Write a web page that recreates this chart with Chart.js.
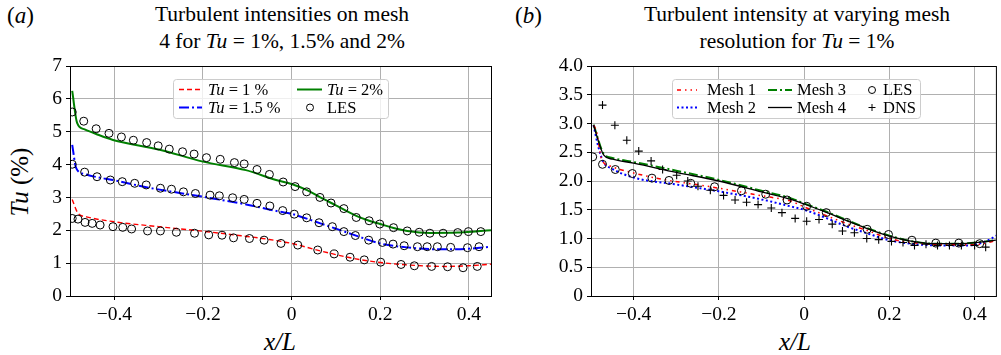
<!DOCTYPE html>
<html>
<head>
<meta charset="utf-8">
<script src="https://cdn.jsdelivr.net/npm/chart.js@4.4.0/dist/chart.umd.min.js"></script>
<style>
  body { margin: 0; background: #fff; width: 1001px; height: 355px; overflow: hidden; position: relative;
         font-family: "Liberation Serif", "Times New Roman", serif; color: #000; }
  .txt { position: absolute; white-space: nowrap; }
  .ttl { font-size: 21.5px; line-height: 27px; text-align: center; width: 420px; }
  .tag { font-size: 23px; }
  .xlab { font-size: 25px; font-style: italic; width: 100px; text-align: center; line-height: 30px; }
  .ylab { font-size: 25px; width: 120px; height: 30px; line-height: 30px; text-align: center; transform: rotate(-90deg); }
  canvas { position: absolute; top: 0; }
</style>
</head>
<body>
<div class="txt tag" style="left:7px; top:3px;">(<i>a</i>)</div>
<div class="txt ttl" style="left:72px; top:1px;">Turbulent intensities on mesh<br>4 for <i>Tu</i> = 1%, 1.5% and 2%</div>
<div class="txt tag" style="left:515px; top:3px;">(<i>b</i>)</div>
<div class="txt ttl" style="left:587px; top:1px;">Turbulent intensity at varying mesh<br>resolution for <i>Tu</i> = 1%</div>
<div class="txt ylab" style="left:-40px; top:167px;"><i>Tu</i> (%)</div>
<div class="txt xlab" style="left:230px; top:327px;">x/L</div>
<div class="txt xlab" style="left:745px; top:327px;">x/L</div>

<canvas id="chartA" width="500" height="355" style="left:0"></canvas>
<canvas id="chartB" width="501" height="355" style="left:500px"></canvas>

<script>
// ---- panel (a): Tu on mesh 4 ----
const xTicks = [-0.4, -0.2, 0, 0.2, 0.4];
const yTicksA = [0, 1, 2, 3, 4, 5, 6, 7];
const yTicksB = [0, 0.5, 1, 1.5, 2, 2.5, 3, 3.5, 4];

const tu1X = [-0.495, -0.482, -0.463, -0.4, -0.3, -0.2, -0.13, -0.05, 0, 0.06, 0.1, 0.137, 0.2, 0.28, 0.35, 0.4, 0.45];
const tu1Y = [2.94, 2.52, 2.41, 2.26, 2.11, 1.97, 1.86, 1.72, 1.60, 1.39, 1.26, 1.15, 1.02, 0.93, 0.90, 0.92, 0.97];

const tu15X = [-0.495, -0.486, -0.467, -0.44, -0.403, -0.328, -0.2, -0.1, -0.028, 0, 0.065, 0.1, 0.147, 0.2, 0.261, 0.34, 0.4, 0.45];
const tu15Y = [4.6, 3.89, 3.71, 3.62, 3.53, 3.31, 3.02, 2.78, 2.57, 2.50, 2.21, 2.05, 1.83, 1.60, 1.48, 1.42, 1.44, 1.50];

const tu2X = [-0.495, -0.484, -0.467, -0.441, -0.403, -0.3, -0.2, -0.103, -0.035, 0, 0.035, 0.065, 0.1, 0.146, 0.175, 0.2, 0.23, 0.261, 0.312, 0.375, 0.42, 0.45];
const tu2Y = [6.24, 5.27, 5.07, 4.93, 4.75, 4.46, 4.09, 3.83, 3.53, 3.41, 3.22, 3.0, 2.76, 2.44, 2.29, 2.19, 2.07, 1.98, 1.92, 1.93, 1.97, 2.0];

// LES points, one group per Tu
const les1X = [-0.495, -0.482, -0.466, -0.45, -0.432, -0.403, -0.381, -0.361, -0.325, -0.296, -0.26, -0.219, -0.187, -0.157, -0.131, -0.095, -0.062, -0.024, 0.014, 0.059, 0.096, 0.132, 0.164, 0.201, 0.247, 0.277, 0.316, 0.352, 0.387, 0.419];
const les1Y = [2.36, 2.34, 2.24, 2.21, 2.16, 2.11, 2.09, 2.04, 1.98, 1.98, 1.94, 1.91, 1.86, 1.85, 1.77, 1.75, 1.70, 1.60, 1.55, 1.40, 1.28, 1.18, 1.10, 1.03, 0.96, 0.92, 0.90, 0.89, 0.86, 0.90];
const les15X = [-0.495, -0.467, -0.439, -0.409, -0.382, -0.354, -0.328, -0.296, -0.271, -0.244, -0.217, -0.184, -0.163, -0.133, -0.107, -0.078, -0.049, -0.02, 0.006, 0.034, 0.062, 0.092, 0.118, 0.144, 0.174, 0.205, 0.229, 0.254, 0.284, 0.306, 0.329, 0.359, 0.397, 0.423];
const les15Y = [4.01, 3.77, 3.63, 3.53, 3.48, 3.43, 3.38, 3.28, 3.25, 3.17, 3.12, 3.07, 3.05, 2.99, 2.94, 2.82, 2.74, 2.60, 2.49, 2.38, 2.23, 2.11, 1.96, 1.84, 1.70, 1.63, 1.58, 1.53, 1.50, 1.50, 1.50, 1.48, 1.47, 1.50];
const les2X = [-0.495, -0.469, -0.441, -0.412, -0.384, -0.357, -0.327, -0.301, -0.276, -0.246, -0.22, -0.192, -0.161, -0.129, -0.107, -0.078, -0.05, -0.019, 0.008, 0.034, 0.064, 0.089, 0.118, 0.146, 0.175, 0.199, 0.23, 0.261, 0.288, 0.312, 0.342, 0.375, 0.399, 0.427];
const les2Y = [5.60, 5.32, 5.09, 4.95, 4.84, 4.74, 4.67, 4.57, 4.47, 4.39, 4.32, 4.21, 4.16, 4.06, 4.02, 3.85, 3.70, 3.47, 3.33, 3.17, 3.0, 2.83, 2.66, 2.39, 2.29, 2.19, 2.08, 1.98, 1.94, 1.91, 1.91, 1.93, 1.96, 1.96];

// ---- panel (b): mesh study at Tu = 1% ----
const mesh1X = [-0.494, -0.487, -0.475, -0.455, -0.4, -0.34, -0.228, -0.15, -0.081, -0.035, 0, 0.031, 0.1, 0.148, 0.2, 0.262, 0.33, 0.4, 0.45];
const mesh1Y = [2.97, 2.86, 2.38, 2.26, 2.14, 2.04, 1.91, 1.81, 1.72, 1.66, 1.55, 1.46, 1.26, 1.14, 1.00, 0.92, 0.89, 0.89, 0.96];
const mesh2X = [-0.494, -0.483, -0.471, -0.452, -0.4, -0.3, -0.2, -0.1, -0.027, 0, 0.054, 0.1, 0.148, 0.2, 0.262, 0.324, 0.386, 0.432, 0.45];
const mesh2Y = [2.97, 2.60, 2.33, 2.22, 2.06, 1.94, 1.82, 1.68, 1.55, 1.50, 1.35, 1.21, 1.09, 0.97, 0.90, 0.88, 0.88, 0.97, 1.05];
const mesh3X = [-0.494, -0.47, -0.45, -0.4, -0.3, -0.2, -0.1, -0.027, 0, 0.054, 0.1, 0.148, 0.2, 0.247, 0.309, 0.363, 0.417, 0.45];
const mesh3Y = [2.98, 2.47, 2.40, 2.33, 2.18, 2.02, 1.83, 1.69, 1.61, 1.46, 1.32, 1.18, 1.05, 0.96, 0.91, 0.91, 0.94, 0.97];
const mesh4X = [-0.494, -0.47, -0.45, -0.4, -0.3, -0.2, -0.1, -0.027, 0, 0.054, 0.1, 0.148, 0.2, 0.247, 0.309, 0.363, 0.417, 0.45];
const mesh4Y = [2.97, 2.45, 2.38, 2.31, 2.15, 2.0, 1.81, 1.67, 1.60, 1.45, 1.31, 1.17, 1.04, 0.96, 0.91, 0.91, 0.94, 0.97];
const lesBX = [-0.496, -0.473, -0.443, -0.403, -0.357, -0.317, -0.266, -0.21, -0.147, -0.09, -0.04, 0.006, 0.052, 0.1, 0.148, 0.198, 0.253, 0.309, 0.363, 0.412];
const lesBY = [2.42, 2.29, 2.20, 2.13, 2.05, 2.01, 1.96, 1.90, 1.83, 1.77, 1.67, 1.56, 1.45, 1.28, 1.16, 1.07, 0.97, 0.92, 0.92, 0.91];
const dnsX = [-0.473, -0.444, -0.416, -0.388, -0.359, -0.332, -0.299, -0.273, -0.249, -0.22, -0.189, -0.162, -0.135, -0.108, -0.077, -0.052, -0.021, 0.006, 0.035, 0.066, 0.09, 0.118, 0.147, 0.175, 0.205, 0.232, 0.259, 0.286, 0.313, 0.341, 0.369, 0.4, 0.426];
const dnsY = [3.32, 2.97, 2.71, 2.52, 2.35, 2.20, 2.10, 2.0, 1.91, 1.84, 1.75, 1.67, 1.63, 1.59, 1.53, 1.45, 1.35, 1.30, 1.33, 1.25, 1.13, 1.10, 1.0, 0.98, 0.95, 0.93, 0.88, 0.90, 0.88, 0.88, 0.88, 0.88, 0.85];

const pts = (xs, ys) => xs.map((x, i) => ({ x: x, y: ys[i] }));
const FONT = "'Liberation Serif', 'Times New Roman', serif";
const minus = v => (v < 0 ? "\u2212" + Math.abs(v) : String(v));

const lineDs = (label, xs, ys, color, width, dash) => ({
  label: label, data: pts(xs, ys), showLine: true, borderColor: color, backgroundColor: color,
  borderWidth: width, borderDash: dash, pointRadius: 0, cubicInterpolationMode: "monotone", order: 2
});
const lesDs = (data) => ({
  label: "LES", data: data, showLine: false, pointStyle: "circle", pointRadius: 4,
  pointBorderColor: "#000", pointBackgroundColor: "rgba(0,0,0,0)", pointBorderWidth: 1, order: 0
});

// box around the axes
const framePlugin = {
  id: "frame",
  afterDraw(chart) {
    const a = chart.chartArea, c = chart.ctx;
    c.save();
    c.strokeStyle = "#000"; c.lineWidth = 1;
    c.strokeRect(a.left + 0.5, a.top + 0.5, a.right - a.left, a.bottom - a.top);
    c.restore();
  }
};

// matplotlib-like legend drawn from the dataset styles
const boxLegend = {
  id: "boxLegend",
  afterDraw(chart, args, opts) {
    const c = chart.ctx, b = opts.box;
    c.save();
    c.beginPath();
    c.roundRect(b[0] + 0.5, b[1] + 0.5, b[2], b[3], 3);
    c.fillStyle = "rgba(255,255,255,0.8)"; c.fill();
    c.strokeStyle = "#cccccc"; c.lineWidth = 1; c.stroke();
    opts.items.forEach(it => {
      const ds = chart.data.datasets[it.ds];
      if (ds.showLine) {
        c.beginPath();
        c.strokeStyle = ds.borderColor; c.lineWidth = ds.borderWidth;
        c.setLineDash(ds.borderDash || []);
        c.moveTo(it.sw[0], it.y); c.lineTo(it.sw[1], it.y); c.stroke();
        c.setLineDash([]);
      } else {
        c.strokeStyle = "#000"; c.lineWidth = 1;
        c.beginPath();
        if (ds.pointStyle === "cross") {
          c.moveTo(it.sw[0] - 3.5, it.y); c.lineTo(it.sw[0] + 3.5, it.y);
          c.moveTo(it.sw[0], it.y - 3.5); c.lineTo(it.sw[0], it.y + 3.5);
        } else {
          c.arc(it.sw[0], it.y, 3.5, 0, Math.PI * 2);
        }
        c.stroke();
      }
      let x = it.tx;
      c.fillStyle = "#000"; c.textBaseline = "middle";
      it.parts.forEach(p => {
        c.font = (p[1] ? "italic " : "") + "16.5px " + FONT;
        c.fillText(p[0], x, it.y + 1);
        x += c.measureText(p[0]).width;
      });
    });
    c.restore();
  }
};

const axes = (yTicks, yMax, yWidth, yFmt) => ({
  x: {
    type: "linear", min: -0.5, max: 0.45,
    afterBuildTicks: s => { s.ticks = xTicks.map(v => ({ value: v })); },
    afterFit: s => { s.height = 59; },
    ticks: { callback: v => minus(v), color: "#000", font: { family: FONT, size: 19.5 }, padding: 3, maxRotation: 0, autoSkip: false },
    grid: { color: "#b0b0b0", lineWidth: 1, tickColor: "#000", tickLength: 4 },
    border: { color: "#000", width: 1 }
  },
  y: {
    type: "linear", min: 0, max: yMax,
    afterBuildTicks: s => { s.ticks = yTicks.map(v => ({ value: v })); },
    afterFit: s => { s.width = yWidth; },
    ticks: { callback: yFmt, color: "#000", font: { family: FONT, size: 19.5 }, padding: 4, autoSkip: false },
    grid: { color: "#b0b0b0", lineWidth: 1, tickColor: "#000", tickLength: 4 },
    border: { color: "#000", width: 1 }
  }
});

new Chart(document.getElementById("chartA"), {
  type: "scatter",
  data: {
    datasets: [
      lineDs("Tu = 1 %", tu1X, tu1Y, "#ff0000", 1.4, [5, 3]),
      lineDs("Tu = 1.5 %", tu15X, tu15Y, "#0000ff", 2, [10, 3, 2, 3]),
      lineDs("Tu = 2%", tu2X, tu2Y, "#008000", 2, []),
      lesDs(pts(les1X, les1Y).concat(pts(les15X, les15Y), pts(les2X, les2Y)))
    ]
  },
  options: {
    responsive: false, animation: false, events: [],
    layout: { padding: { top: 66, right: 9, left: 0, bottom: 0 } },
    scales: axes(yTicksA, 7, 70, v => String(v)),
    plugins: {
      legend: { display: false }, tooltip: { enabled: false },
      boxLegend: {
        box: [173, 79, 215, 39],
        items: [
          { ds: 0, y: 89.5, sw: [179, 202], tx: 208, parts: [["Tu", true], [" = 1 %", false]] },
          { ds: 1, y: 107.5, sw: [179, 202], tx: 208, parts: [["Tu", true], [" = 1.5 %", false]] },
          { ds: 2, y: 89.5, sw: [297, 322], tx: 327, parts: [["Tu", true], [" = 2%", false]] },
          { ds: 3, y: 107.5, sw: [310], tx: 327, parts: [["LES", false]] }
        ]
      }
    }
  },
  plugins: [framePlugin, boxLegend]
});

new Chart(document.getElementById("chartB"), {
  type: "scatter",
  data: {
    datasets: [
      lineDs("Mesh 1", mesh1X, mesh1Y, "#ff0000", 1.5, [4, 4, 1.5, 4, 1.5, 4]),
      lineDs("Mesh 2", mesh2X, mesh2Y, "#0000ff", 2, [2, 2.5]),
      lineDs("Mesh 3", mesh3X, mesh3Y, "#008000", 2, [9, 3, 2, 3]),
      Object.assign(lineDs("Mesh 4", mesh4X, mesh4Y, "#000000", 1.3, []), { order: 1 }),
      lesDs(pts(lesBX, lesBY)),
      {
        label: "DNS", data: pts(dnsX, dnsY), showLine: false, pointStyle: "cross", pointRadius: 4,
        pointBorderColor: "#000", pointBorderWidth: 1.1, order: 0
      }
    ]
  },
  options: {
    responsive: false, animation: false, events: [],
    layout: { padding: { top: 66, right: 0, left: 0, bottom: 0 } },
    scales: axes(yTicksB, 4, 91, v => (v === 0 ? "0" : v.toFixed(1))),
    plugins: {
      legend: { display: false }, tooltip: { enabled: false },
      boxLegend: {
        box: [172, 79, 248, 39],
        items: [
          { ds: 0, y: 90, sw: [177, 197], tx: 207, parts: [["Mesh 1", false]] },
          { ds: 1, y: 107.5, sw: [177, 197], tx: 207, parts: [["Mesh 2", false]] },
          { ds: 2, y: 90, sw: [268, 292], tx: 297, parts: [["Mesh 3", false]] },
          { ds: 3, y: 107.5, sw: [268, 292], tx: 297, parts: [["Mesh 4", false]] },
          { ds: 4, y: 90, sw: [372], tx: 383, parts: [["LES", false]] },
          { ds: 5, y: 107.5, sw: [372], tx: 383, parts: [["DNS", false]] }
        ]
      }
    }
  },
  plugins: [framePlugin, boxLegend]
});
</script>
</body>
</html>
